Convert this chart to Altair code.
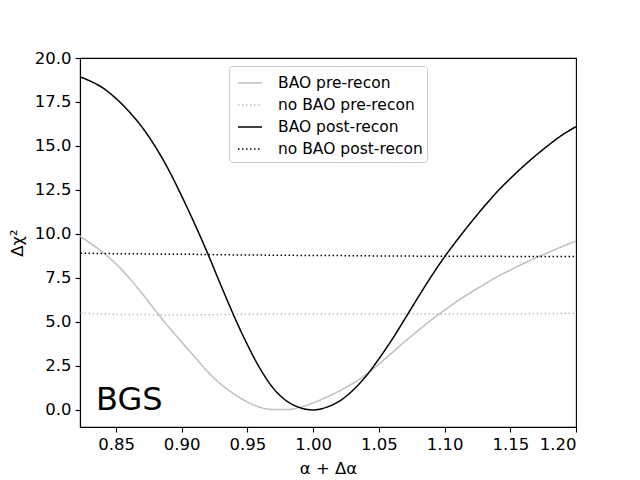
import altair as alt
import pandas as pd

alpha = [0.82, 0.83, 0.84, 0.85, 0.86, 0.87, 0.88, 0.89, 0.90, 0.91,
         0.92, 0.93, 0.94, 0.95, 0.96, 0.97, 0.98, 0.99, 1.00, 1.01,
         1.02, 1.03, 1.04, 1.05, 1.06, 1.07, 1.08, 1.09, 1.10, 1.11,
         1.12, 1.13, 1.14, 1.15, 1.16, 1.17, 1.18, 1.19, 1.20]

bao_pre = [10.0, 9.5, 8.95, 8.3, 7.5, 6.6, 5.65, 4.72, 3.85, 3.0,
           2.15, 1.45, 0.9, 0.45, 0.14, 0.02, 0.02, 0.15, 0.4, 0.72,
           1.08, 1.5, 2.0, 2.6, 3.25, 3.9, 4.52, 5.12, 5.67, 6.2,
           6.68, 7.13, 7.57, 7.95, 8.32, 8.66, 8.98, 9.3, 9.6]

nobao_pre = [5.5, 5.48, 5.45, 5.43, 5.42, 5.42, 5.41, 5.4, 5.4, 5.4,
             5.41, 5.42, 5.43, 5.44, 5.44, 5.45, 5.45, 5.45, 5.45, 5.45,
             5.45, 5.45, 5.45, 5.45, 5.45, 5.45, 5.45, 5.45, 5.45, 5.46,
             5.46, 5.46, 5.47, 5.47, 5.47, 5.48, 5.48, 5.49, 5.5]

bao_post = [19.0, 18.7, 18.3, 17.7, 16.95, 16.05, 14.95, 13.65, 12.15, 10.55,
            8.85, 7.05, 5.3, 3.7, 2.3, 1.2, 0.5, 0.13, 0.0, 0.15,
            0.5, 1.1, 1.9, 2.9, 4.0, 5.2, 6.42, 7.6, 8.7, 9.7,
            10.65, 11.55, 12.4, 13.15, 13.85, 14.5, 15.1, 15.65, 16.1]

nobao_post = [8.9, 8.9, 8.89, 8.88, 8.88, 8.87, 8.86, 8.85, 8.85, 8.84,
              8.83, 8.82, 8.81, 8.8, 8.8, 8.79, 8.79, 8.78, 8.78, 8.77,
              8.77, 8.76, 8.76, 8.75, 8.75, 8.75, 8.74, 8.74, 8.74, 8.73,
              8.73, 8.73, 8.73, 8.72, 8.72, 8.72, 8.72, 8.72, 8.72]

series_names = ["BAO pre-recon", "no BAO pre-recon", "BAO post-recon", "no BAO post-recon"]
series_values = [bao_pre, nobao_pre, bao_post, nobao_post]

x_ticks = [0.85, 0.90, 0.95, 1.00, 1.05, 1.10, 1.15, 1.20]
y_ticks = [0.0, 2.5, 5.0, 7.5, 10.0, 12.5, 15.0, 17.5, 20.0]

rows = []
for name, vals in zip(series_names, series_values):
    for i, (a, v) in enumerate(zip(alpha, vals)):
        rows.append({"alpha": a, "dchi2": v, "series": name, "order": i})
df = pd.DataFrame(rows)

FONT = "DejaVu Sans"

lines = alt.Chart(df).mark_line(strokeWidth=1.5, clip=True, interpolate="monotone").encode(
    x=alt.X("alpha:Q",
            scale=alt.Scale(domain=[0.8226, 1.20], nice=False, zero=False),
            axis=alt.Axis(values=x_ticks, format=".2f", title="α + Δα")),
    y=alt.Y("dchi2:Q",
            scale=alt.Scale(domain=[-0.97, 20.0], nice=False, zero=False),
            axis=alt.Axis(values=y_ticks, format=".1f", title="Δχ²")),
    color=alt.Color("series:N",
                    scale=alt.Scale(domain=series_names,
                                    range=["#bfbfbf", "#bfbfbf", "#000000", "#000000"]),
                    legend=alt.Legend(title=None)),
    strokeDash=alt.StrokeDash("series:N",
                              scale=alt.Scale(domain=series_names,
                                              range=[[1, 0], [1.5, 2.5], [1, 0], [1.5, 2.5]]),
                              legend=alt.Legend(title=None)),
    detail="series:N",
    order="order:Q",
)

label = alt.Chart(pd.DataFrame({"t": ["BGS"]})).mark_text(
    fontSize=32, font=FONT, align="left", baseline="alphabetic", color="black"
).encode(text="t:N", x=alt.value(16), y=alt.value(352))

chart = alt.layer(lines, label).properties(
    width=496, height=369,
    autosize=alt.AutoSizeParams(type="none"),
    padding={"left": 72, "top": 50, "right": 40, "bottom": 50},
).configure_view(
    stroke="black", strokeWidth=1.1
).configure_axis(
    labelFont=FONT, titleFont=FONT, labelFontSize=16.5, titleFontSize=16.5,
    titleFontWeight="normal", labelColor="black", titleColor="black",
    tickColor="black", domainColor="black", tickSize=5, tickWidth=1.1,
    domainWidth=1.1, grid=False, labelPadding=4,
).configure_axisX(
    titlePadding=8
).configure_axisY(
    titlePadding=9
).configure_legend(
    orient="none", legendX=149, legendY=8,
    symbolType="stroke", symbolSize=576, symbolStrokeWidth=1.5, symbolOffset=4,
    labelFont=FONT, labelFontSize=15.5, labelColor="black", labelOffset=15,
    padding=4, rowPadding=-1, cornerRadius=3,
    fillColor="rgba(255,255,255,0.8)", strokeColor="#cccccc",
)

chart.save("out.html", embed_options={"renderer": "svg", "actions": False})
